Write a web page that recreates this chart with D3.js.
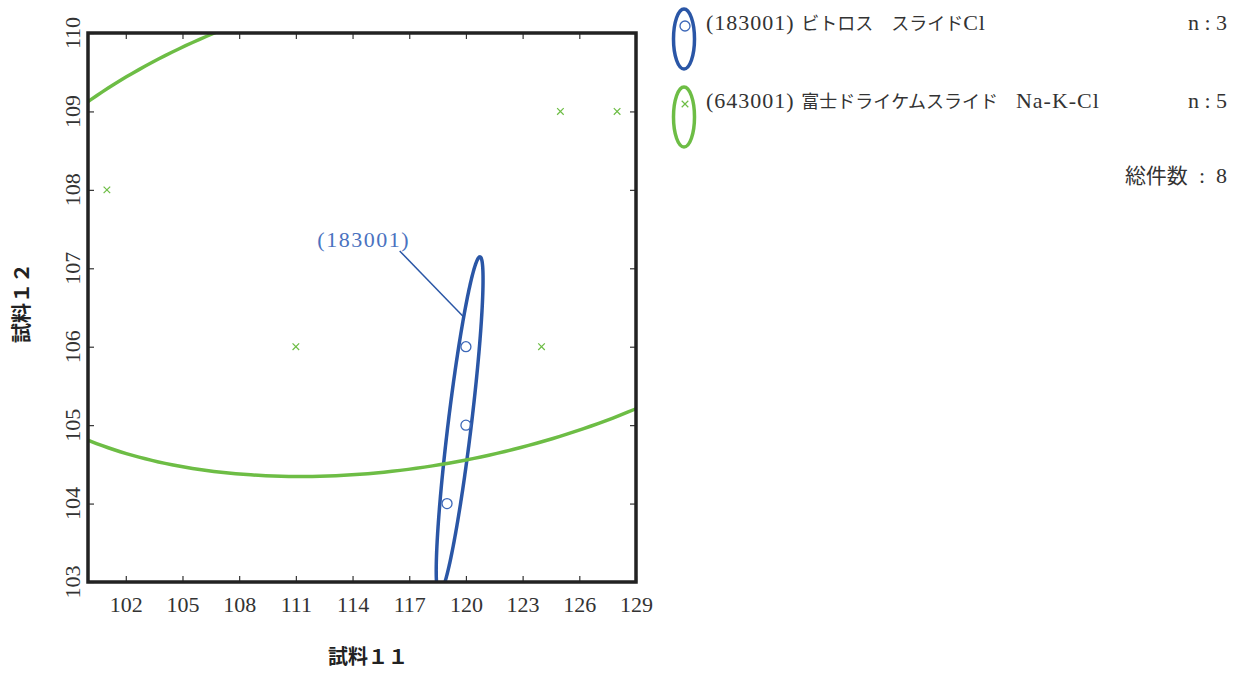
<!DOCTYPE html>
<html>
<head>
<meta charset="utf-8">
<script src="https://cdn.jsdelivr.net/npm/d3@7"></script>
<style>
  body { margin: 0; background: #fff; }
  svg { display: block; }
  .serif { font-family: "Liberation Serif", "Noto Sans CJK JP", serif; }
  .pre { white-space: pre; }
</style>
</head>
<body>
<svg width="1242" height="673"></svg>
<script>
// data
const xTicks = [102, 105, 108, 111, 114, 117, 120, 123, 126, 129];
const yTicks = [103, 104, 105, 106, 107, 108, 109, 110];

const codes = ['183001', '643001'];
const names = ['(183001) ビトロス　スライドCl', '(643001) 富士ドライケムスライド　Na-K-Cl'];
const xs1 = [120, 120, 119];
const ys1 = [106, 105, 104];
const xs2 = [101, 111, 124, 125, 128];
const ys2 = [108, 106, 106, 109, 109];
const totalLabel = '総件数';

const colors = ['#2a56a6', '#6dbd45'];
const markerColors = ['#3d68b8', '#6dbd45'];

const K = Math.sqrt(-2 * Math.log(0.1)); // 90% ellipse

const margin = { left: 88, right: 636, top: 33, bottom: 582 };
const x = d3.scaleLinear().domain([100, 129]).range([margin.left, margin.right]);
const y = d3.scaleLinear().domain([103, 110]).range([margin.bottom, margin.top]);

const svg = d3.select('svg');

svg.append('defs').append('clipPath').attr('id', 'plot')
  .append('rect')
  .attr('x', margin.left).attr('y', margin.top)
  .attr('width', margin.right - margin.left).attr('height', margin.bottom - margin.top);

// inward ticks on all four sides
const tickColor = '#333';
const bottom = svg.append('g').attr('transform', `translate(0,${margin.bottom})`)
  .call(d3.axisBottom(x).tickValues(xTicks).tickSize(-6).tickPadding(14));
bottom.selectAll('text').attr('class', 'serif').style('font-size', '22px').attr('fill', '#333');
svg.append('g').attr('transform', `translate(0,${margin.top})`)
  .call(d3.axisTop(x).tickValues(xTicks).tickSize(-6).tickFormat(''));
svg.append('g').attr('transform', `translate(${margin.left},0)`)
  .call(d3.axisLeft(y).tickValues(yTicks).tickSize(-6).tickFormat(''));
svg.append('g').attr('transform', `translate(${margin.right},0)`)
  .call(d3.axisRight(y).tickValues(yTicks).tickSize(-6).tickFormat(''));
svg.selectAll('.domain').remove();
svg.selectAll('.tick line').attr('stroke', tickColor).attr('stroke-width', 1.2);

svg.append('g').selectAll('text').data(yTicks).join('text')
  .attr('class', 'serif')
  .attr('transform', d => `translate(72,${y(d)}) rotate(-90)`)
  .attr('text-anchor', 'middle')
  .attr('dominant-baseline', 'central')
  .style('font-size', '22px')
  .attr('fill', '#333')
  .text(d => d);

// axis titles
svg.append('text')
  .attr('x', 368).attr('y', 664)
  .attr('text-anchor', 'middle')
  .style('font-family', '"Noto Sans CJK JP"').style('font-weight', 'bold').style('font-size', '20px')
  .attr('fill', '#222')
  .text('試料１１');
svg.append('text')
  .attr('transform', `translate(29,${303}) rotate(-90)`)
  .attr('text-anchor', 'middle')
  .style('font-family', '"Noto Sans CJK JP"').style('font-weight', 'bold').style('font-size', '20px')
  .attr('fill', '#222')
  .text('試料１２');

// confidence ellipse from the sample covariance
function ellipse(xs, ys) {
  const n = xs.length;
  const mx = d3.mean(xs), my = d3.mean(ys);
  let sxx = 0, syy = 0, sxy = 0;
  for (let i = 0; i < n; i++) {
    sxx += (xs[i] - mx) ** 2;
    syy += (ys[i] - my) ** 2;
    sxy += (xs[i] - mx) * (ys[i] - my);
  }
  sxx /= n - 1; syy /= n - 1; sxy /= n - 1;
  const a = Math.sqrt(sxx), b = sxy / a, c = Math.sqrt(syy - b * b);
  return t => [mx + K * a * Math.cos(t), my + K * (b * Math.cos(t) + c * Math.sin(t))];
}

const ell = [ellipse(xs1, ys1), ellipse(xs2, ys2)];
const line = d3.line().x(d => x(d[0])).y(d => y(d[1]));
const ts = d3.range(0, 361).map(d => d * Math.PI / 180);

const plot = svg.append('g').attr('clip-path', 'url(#plot)');
plot.selectAll('path.ell').data(ell).join('path')
  .attr('class', 'ell')
  .attr('d', f => line(ts.map(f)))
  .attr('fill', 'none')
  .attr('stroke', (d, i) => colors[i])
  .attr('stroke-width', 3.5);

// points
plot.selectAll('circle.pt').data(xs1.map((v, i) => [v, ys1[i]])).join('circle')
  .attr('class', 'pt')
  .attr('cx', d => x(d[0])).attr('cy', d => y(d[1])).attr('r', 5)
  .attr('fill', 'none').attr('stroke', markerColors[0]).attr('stroke-width', 1.3);

const cross = d3.symbol().type(d3.symbolX).size(30);
plot.selectAll('path.pt').data(xs2.map((v, i) => [v, ys2[i]])).join('path')
  .attr('class', 'pt')
  .attr('transform', d => `translate(${x(d[0])},${y(d[1])})`)
  .attr('d', cross)
  .attr('fill', 'none').attr('stroke', markerColors[1]).attr('stroke-width', 1.2);

// frame
svg.append('rect')
  .attr('x', margin.left).attr('y', margin.top)
  .attr('width', margin.right - margin.left).attr('height', margin.bottom - margin.top)
  .attr('fill', 'none').attr('stroke', '#222').attr('stroke-width', 3.5);

// callout for the first ellipse
const anchor = ell[0](80 * Math.PI / 180);
const ax = x(anchor[0]), ay = y(anchor[1]);
svg.append('line')
  .attr('x1', ax).attr('y1', ay).attr('x2', ax - 64).attr('y2', ay - 66)
  .attr('stroke', colors[0]).attr('stroke-width', 1.5);
svg.append('text')
  .attr('class', 'serif')
  .attr('x', ax - 100).attr('y', ay - 70)
  .attr('text-anchor', 'middle')
  .style('font-size', '22px').style('letter-spacing', '1.5px')
  .attr('fill', '#4a72c0')
  .text(`(${codes[0]})`);

// mixed text: latin runs in serif, kana/kanji runs in CJK
function mixed(sel, str, cjkSize) {
  str.split(/([\u3000-\u30ff\u4e00-\u9fff\uff00-\uffef]+)/).filter(s => s.length).forEach(s => {
    const cjk = /[\u3000-\u30ff\u4e00-\u9fff\uff00-\uffef]/.test(s);
    sel.append('tspan')
      .style('font-family', cjk ? '"Noto Sans CJK JP"' : '"Liberation Serif"')
      .style('font-size', cjk ? cjkSize + 'px' : '22px')
      .style('letter-spacing', cjk ? '0px' : '1px')
      .text(s);
  });
}

// legend
const counts = [xs1.length, xs2.length];
const leg = svg.append('g');
[0, 1].forEach(i => {
  const cy = 39 + i * 78;
  leg.append('ellipse')
    .attr('cx', 684).attr('cy', cy).attr('rx', 10.5).attr('ry', 30)
    .attr('fill', 'none').attr('stroke', colors[i]).attr('stroke-width', 3.5);
  if (i === 0) {
    leg.append('circle').attr('cx', 685).attr('cy', cy - 13).attr('r', 5)
      .attr('fill', 'none').attr('stroke', markerColors[0]).attr('stroke-width', 1.3);
  } else {
    leg.append('path').attr('transform', `translate(685,${cy - 13})`).attr('d', cross)
      .attr('fill', 'none').attr('stroke', markerColors[1]).attr('stroke-width', 1.2);
  }
  const t = leg.append('text').attr('class', 'pre')
    .attr('x', 706).attr('y', cy - 9).attr('fill', '#333');
  mixed(t, names[i], 18);
  leg.append('text').attr('class', 'serif pre')
    .attr('x', 1227).attr('y', cy - 9).attr('text-anchor', 'end')
    .style('font-size', '22px').attr('fill', '#333')
    .text(`n : ${counts[i]}`);
});
const tot = leg.append('text').attr('class', 'pre')
  .attr('x', 1227).attr('y', 183).attr('text-anchor', 'end').attr('fill', '#333');
tot.append('tspan').style('font-family', '"Noto Sans CJK JP"').style('font-size', '21px').text(totalLabel);
tot.append('tspan').style('font-family', '"Liberation Serif"').style('font-size', '22px').text(`  :  ${d3.sum(counts)}`);
</script>
</body>
</html>
